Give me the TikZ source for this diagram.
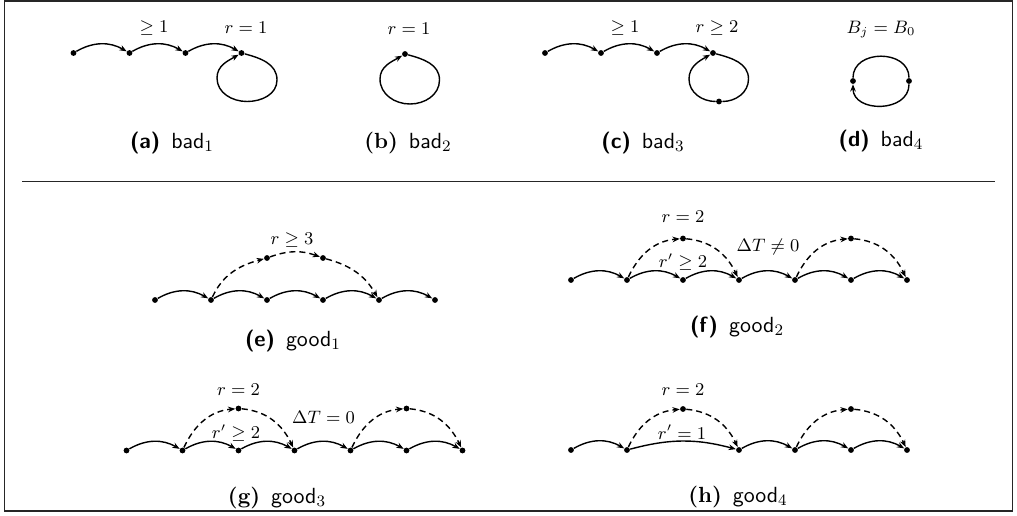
\documentclass[tikz,border=0pt]{standalone}
\usetikzlibrary{arrows.meta}
\begin{document}
\begin{tikzpicture}[x=0.5pt,y=0.5pt,
  dot/.style={circle,fill,inner sep=0pt,minimum size=2.9pt},
  arr/.style={-{Stealth[length=3.6pt,width=2.8pt]},line width=0.7pt},
  plainline/.style={line width=0.7pt},
  chainarc/.style={arr,bend left=30},
  dsh/.style={arr,dash pattern=on 3pt off 2pt},
  lbl/.style={font=\fontsize{8.8}{10}\selectfont,inner sep=0pt},
  captext/.style={font=\fontsize{10.95}{13}\selectfont\sffamily,inner sep=0pt},
  framestyle/.style={line width=0.6pt,black!85}]
\useasboundingbox (0,0) rectangle (1017,-515);
\draw[framestyle] (4.5,-1) rectangle (1012.5,-511);
\coordinate (sepL) at (22,-181.5);
\coordinate (sepR) at (995,-181.5);
\draw[framestyle] (sepL) -- (sepR);

% (a)
\node[dot] (a1) at (73.5,-53) {};
\node[dot] (a2) at (129.5,-53) {};
\node[dot] (a3) at (185.5,-53) {};
\node[dot] (a4) at (241.5,-53) {};
\coordinate (aR) at (277,-80);
\coordinate (aB) at (247,-101.5);
\coordinate (aL) at (217,-78);
\path (a1) edge[chainarc] (a2) (a2) edge[chainarc] (a3) (a3) edge[chainarc] (a4);
\draw[arr] (a4) to[out=-15,in=90] (aR) to[out=-90,in=0] (aB)
  to[out=180,in=-90] (aL) to[out=90,in=210] (a4);
\node[lbl] (la1) at (154,-28) {$\geq 1$};
\node[lbl] (la2) at (246,-28) {$r = 1$};
\node[captext] (ca) at (172,-143) {{\bfseries (a)}\hspace{5.5pt}bad$_1$};

% (b)
\node[dot] (b1) at (405,-54) {};
\coordinate (bR) at (439.5,-80);
\coordinate (bB) at (410,-104);
\coordinate (bL) at (380,-79);
\draw[arr] (b1) to[out=-15,in=90] (bR) to[out=-90,in=0] (bB)
  to[out=180,in=-90] (bL) to[out=90,in=210] (b1);
\node[lbl] (lb1) at (409,-29) {$r = 1$};
\node[captext] (cb) at (408,-143) {{\rmfamily\bfseries (b)}\hspace{5.5pt}bad$_2$};

% (c)
\node[dot] (c1) at (545,-53) {};
\node[dot] (c2) at (601,-53) {};
\node[dot] (c3) at (657,-53) {};
\node[dot] (c4) at (713,-53) {};
\node[dot] (c5) at (719,-101.5) {};
\coordinate (cR) at (748.5,-79);
\coordinate (cL) at (689,-79);
\path (c1) edge[chainarc] (c2) (c2) edge[chainarc] (c3) (c3) edge[chainarc] (c4);
\draw[plainline] (c4) to[out=-15,in=90] (cR) to[out=-90,in=0] (c5);
\draw[arr] (c5) to[out=180,in=-90] (cL) to[out=90,in=210] (c4);
\node[lbl] (lc1) at (625,-28) {$\geq 1$};
\node[lbl] (lc2) at (717,-28) {$r \geq 2$};
\node[captext] (cc) at (643,-143) {{\bfseries (c)}\hspace{5.5pt}bad$_3$};

% (d)
\node[dot] (d1) at (853,-81) {};
\node[dot] (d2) at (909,-81) {};
\draw[plainline] (d1) .. controls +(0,32) and +(0,32) .. (d2);
\draw[arr] (d2) .. controls +(0,-32) and +(0,-32) .. (d1);
\node[lbl] (ld1) at (881,-30) {$B_j = B_0$};
\node[captext] (cd) at (881,-141) {{\bfseries (d)}\hspace{5.5pt}bad$_4$};

% (e)
\foreach \i/\x in {1/155,2/211,3/267,4/323,5/379,6/435}
  \node[dot] (e\i) at (\x,-300) {};
\node[dot] (eu1) at (267,-258) {};
\node[dot] (eu2) at (323,-258) {};
\path (e1) edge[chainarc] (e2) (e2) edge[chainarc] (e3) (e3) edge[chainarc] (e4)
      (e4) edge[chainarc] (e5) (e5) edge[chainarc] (e6);
\draw[dsh] (e2) to[out=65,in=195] (eu1);
\draw[dsh] (eu1) to[bend left=20] (eu2);
\draw[dsh] (eu2) to[out=-15,in=120] (e5);
\node[lbl] (le1) at (292,-240) {$r \geq 3$};
\node[captext] (ce) at (293,-341) {{\bfseries (e)}\hspace{5.5pt}good$_1$};

% (f)
\foreach \i/\x in {1/571,2/627,3/683,4/739,5/795,6/851,7/907}
  \node[dot] (f\i) at (\x,-280) {};
\node[dot] (fu1) at (683,-238.5) {};
\node[dot] (fu2) at (851,-238.5) {};
\path (f1) edge[chainarc] (f2) (f2) edge[chainarc] (f3) (f3) edge[chainarc] (f4)
      (f4) edge[chainarc] (f5) (f5) edge[chainarc] (f6) (f6) edge[chainarc] (f7);
\draw[dsh] (f2) to[out=65,in=185] (fu1);
\draw[dsh] (fu1) to[out=-5,in=115] (f4);
\draw[dsh] (f5) to[out=65,in=185] (fu2);
\draw[dsh] (fu2) to[out=-5,in=115] (f7);
\node[lbl] (lf1) at (683,-217) {$r = 2$};
\node[lbl] (lf2) at (683,-262) {$r' \geq 2$};
\node[lbl] (lf3) at (768,-247) {$\Delta T \neq 0$};
\node[captext] (cf) at (737,-327) {{\bfseries (f)}\hspace{5.5pt}good$_2$};

% (g)
\foreach \i/\x in {1/126.5,2/182.5,3/238.5,4/294.5,5/350.5,6/406.5,7/462.5}
  \node[dot] (g\i) at (\x,-450.5) {};
\node[dot] (gu1) at (238.5,-408.5) {};
\node[dot] (gu2) at (406.5,-408.5) {};
\path (g1) edge[chainarc] (g2) (g2) edge[chainarc] (g3) (g3) edge[chainarc] (g4)
      (g4) edge[chainarc] (g5) (g5) edge[chainarc] (g6) (g6) edge[chainarc] (g7);
\draw[dsh] (g2) to[out=65,in=185] (gu1);
\draw[dsh] (gu1) to[out=-5,in=115] (g4);
\draw[dsh] (g5) to[out=65,in=185] (gu2);
\draw[dsh] (gu2) to[out=-5,in=115] (g7);
\node[lbl] (lg1) at (238.5,-390) {$r = 2$};
\node[lbl] (lg2) at (236,-433) {$r' \geq 2$};
\node[lbl] (lg3) at (323.5,-417) {$\Delta T = 0$};
\node[captext] (cg) at (277,-498) {{\rmfamily\bfseries (g)}\hspace{5.5pt}good$_3$};

% (h)
\foreach \i/\x in {1/571,2/627,3/739,4/795,5/851,6/907}
  \node[dot] (h\i) at (\x,-450) {};
\node[dot] (hu1) at (683,-409) {};
\node[dot] (hu2) at (851,-409) {};
\path (h1) edge[chainarc] (h2) (h2) edge[arr,bend left=15] (h3) (h3) edge[chainarc] (h4)
      (h4) edge[chainarc] (h5) (h5) edge[chainarc] (h6);
\draw[dsh] (h2) to[out=65,in=185] (hu1);
\draw[dsh] (hu1) to[out=-5,in=115] (h3);
\draw[dsh] (h4) to[out=65,in=185] (hu2);
\draw[dsh] (hu2) to[out=-5,in=115] (h6);
\node[lbl] (lh1) at (683,-390) {$r = 2$};
\node[lbl] (lh2) at (682,-432) {$r' = 1$};
\node[captext] (ch) at (738,-497) {{\rmfamily\bfseries (h)}\hspace{5.5pt}good$_4$};
\end{tikzpicture}
\end{document}
